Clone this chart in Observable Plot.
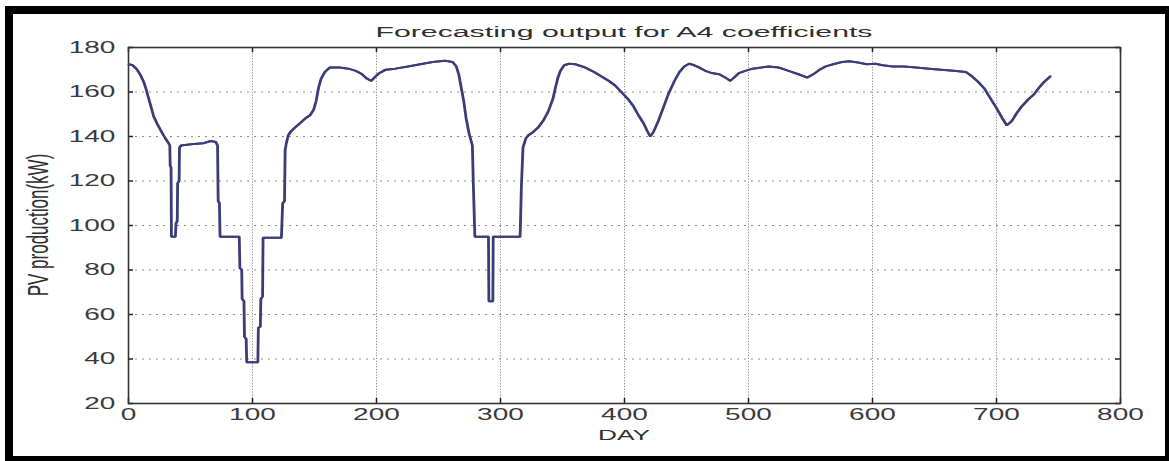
<!DOCTYPE html>
<html>
<head>
<meta charset="utf-8">
<script src="https://cdn.jsdelivr.net/npm/d3@7"></script>
<script src="https://cdn.jsdelivr.net/npm/@observablehq/plot@0.6"></script>
<style>
  html, body { margin: 0; padding: 0; background: #fff; }
  body { width: 1169px; height: 461px; overflow: hidden; position: relative; font-family: "Liberation Sans", Arial, sans-serif; }
  #border { position: absolute; left: 5px; top: 6px; width: 1168px; height: 458px; box-sizing: border-box; border: 8px solid #000; }
  #chart { position: absolute; left: 0; top: 0; }
  .lbl { position: absolute; white-space: nowrap; line-height: 1; color: #2e2e2e; transform-origin: 50% 50%; }
</style>
</head>
<body>
<div id="border"></div>
<div id="chart"></div>
<div id="title" class="lbl" style="font-size:14px">Forecasting output for A4 coefficients</div>
<div id="xlabel" class="lbl" style="font-size:15px">DAY</div>
<div id="ylabel" class="lbl" style="font-size:17px">PV production(kW)</div>
<script>
// ---- data ----
const days = [0,3,6,9,12,14,16,18,20,23,26,29,32,33,33.3,34,34.3,37.5,38,39,39.3,40.5,40.8,42,50,60,66,70,71.5,72,73,73.5,89,89.5,91,91.3,92.8,93.2,94.6,95,104,104.4,106,106.4,107.8,108.2,123,124,125.5,126,127,128.5,131,134,138,142,146,149,151,153,155,158,162,170,177,183,188,192,195.5,198,202,207,215,225,235,245,255,261,264,266,268,270,272,274.5,277,277.8,279,290,290.3,293.5,293.8,315.5,316.5,317.8,320,322,326,330,334,338,342,344,346,348,351,355,360,368,375,381,387,392,398,403,407,411,415,418,420.5,423,427,431,435,440,444,448,452,456,460,465,470,476,481,485,489,492,497,503,510,516,524,532,540,547,552,557,562,568,575,581,588,595,602,608,616,625,635,645,655,665,675,680,685,690,695,700,704,708,712,716,720,725,730,734,738,743];
const pv   = [172.5,172,170.5,168,164.5,161,157,153,149,145.5,142.5,139.5,137,136,127,126,95,95,101,102,119,120,135,136,136.5,137,138,137.5,136,111,110,95,95,81,80,67,66,50,49,38.5,38.5,54,54.5,67,68,94.5,94.5,110,111,134,137,140.5,142.5,144,146,148,149.5,152,156,162,166,169,171,171,170.5,169.5,168,166,165,166.5,168.5,170,170.5,171.5,172.5,173.5,174,173.5,171.5,168,162,156,148,141,136,118,95,95,66,66,95,95,117,135,139,140.5,142,144,147,151,157,162,166.5,169.5,172,172.7,172.5,171,169,167,165,163,159.5,156.5,153.5,149.5,146,142.5,140,142,147,153,159,165,169,171.5,172.7,172,171,169.5,168.5,168,166.5,165,167,168.5,169.5,170.5,171,171.5,171,169.5,168,166.5,168,170,171.5,172.5,173.5,173.8,173.3,172.5,172.7,172,171.5,171.5,171,170.5,170,169.5,169,167,164.5,161.5,157,152.5,148.5,145,147,150.5,153.5,156.5,159,162,164.5,167,168];
const xTicks = [0,100,200,300,400,500,600,700,800];
const yTicks = [20,40,60,80,100,120,140,160,180];
const xDomain = [0, 800];
const yDomain = [20, 180];

const data = days.map((d, i) => ({day: d, pv: pv[i]}));

// ---- layout ----
const W = 1169, H = 461;
const mL = 128, mT = 47, mR = 49, mB = 58;
const plotW = W - mL - mR, plotH = H - mT - mB;
const tickLen = 5;
const lineColor = "#3c3c78";
const gridColor = "#8c8c8c";

const chart = Plot.plot({
  width: W,
  height: H,
  marginLeft: mL, marginTop: mT, marginRight: mR, marginBottom: mB,
  style: {fontFamily: "'Liberation Sans', Arial, sans-serif", fontSize: "16px", background: "transparent", overflow: "visible"},
  x: {domain: xDomain, axis: null},
  y: {domain: yDomain, axis: null},
  marks: [
    Plot.gridX(xTicks.slice(1, -1), {stroke: gridColor, strokeOpacity: 1, strokeWidth: 1, strokeDasharray: "1.2,1.6"}),
    Plot.gridY(yTicks.slice(1, -1), {stroke: gridColor, strokeOpacity: 1, strokeWidth: 1, strokeDasharray: "2,5"}),
    // inward ticks on all four sides
    Plot.tickX(xTicks, {x: d => d, stroke: "#222", strokeWidth: 1.5, insetTop: plotH - tickLen}),
    Plot.tickX(xTicks, {x: d => d, stroke: "#222", strokeWidth: 1.5, insetBottom: plotH - tickLen}),
    Plot.tickY(yTicks, {y: d => d, stroke: "#222", strokeWidth: 1.5, insetRight: plotW - tickLen}),
    Plot.tickY(yTicks, {y: d => d, stroke: "#222", strokeWidth: 1.5, insetLeft: plotW - tickLen}),
    Plot.frame({stroke: "#333", strokeWidth: 1.6}),
    Plot.line(data, {x: "day", y: "pv", stroke: lineColor, strokeWidth: 2, strokeLinejoin: "miter"}),
    Plot.line(data, {x: "day", y: "pv", stroke: lineColor, strokeWidth: 2, dx: 0.8, strokeLinejoin: "miter"}),
    Plot.axisX(xTicks, {tickSize: 0, tickPadding: 5, label: null, color: "#3a3a3a", fontSize: 16, tickFormat: d => String(d)}),
    Plot.axisY(yTicks, {tickSize: 0, tickPadding: 13, label: null, color: "#3a3a3a", fontSize: 16, tickFormat: d => String(d)})
  ]
});
document.getElementById("chart").appendChild(chart);

// widen tick label glyphs horizontally, like the reference:
// wrap each label in a group scaled about its own anchor point
const ns = "http://www.w3.org/2000/svg";
chart.querySelectorAll("g[aria-label$='tick label'] text").forEach(t => {
  const bb = t.getBBox();
  const tm = t.transform.baseVal.consolidate();
  const m = tm ? tm.matrix : {a: 1, b: 0, c: 0, d: 1, e: 0, f: 0};
  const anchor = t.getAttribute("text-anchor") || getComputedStyle(t).textAnchor || t.parentNode.getAttribute("text-anchor");
  let ax = anchor === "end" ? bb.x + bb.width : anchor === "start" ? bb.x : bb.x + bb.width / 2;
  const ay = bb.y + bb.height / 2;
  const px = m.a * ax + m.c * ay + m.e;
  const g = document.createElementNS(ns, "g");
  g.setAttribute("transform", `translate(${px},0) scale(1.75,1) translate(${-px},0)`);
  t.parentNode.insertBefore(g, t);
  g.appendChild(t);
});

// title, axis labels (HTML), centred on the plot area
const cx = mL + plotW / 2;
const title = document.getElementById("title");
const tw = title.getBoundingClientRect().width;
title.style.left = cx + "px";
title.style.top = "25px";
title.style.transform = `translateX(-50%) scaleX(${497 / tw})`;

const xl = document.getElementById("xlabel");
const xw = xl.getBoundingClientRect().width;
xl.style.left = cx + "px";
xl.style.top = "427px";
xl.style.transform = `translateX(-50%) scaleX(${52 / xw})`;

const yl = document.getElementById("ylabel");
yl.style.left = "37.5px";
yl.style.top = (mT + plotH / 2) + "px";
yl.style.transform = "translate(-50%,-50%) scaleX(1.75) rotate(-90deg)";
</script>
</body>
</html>
